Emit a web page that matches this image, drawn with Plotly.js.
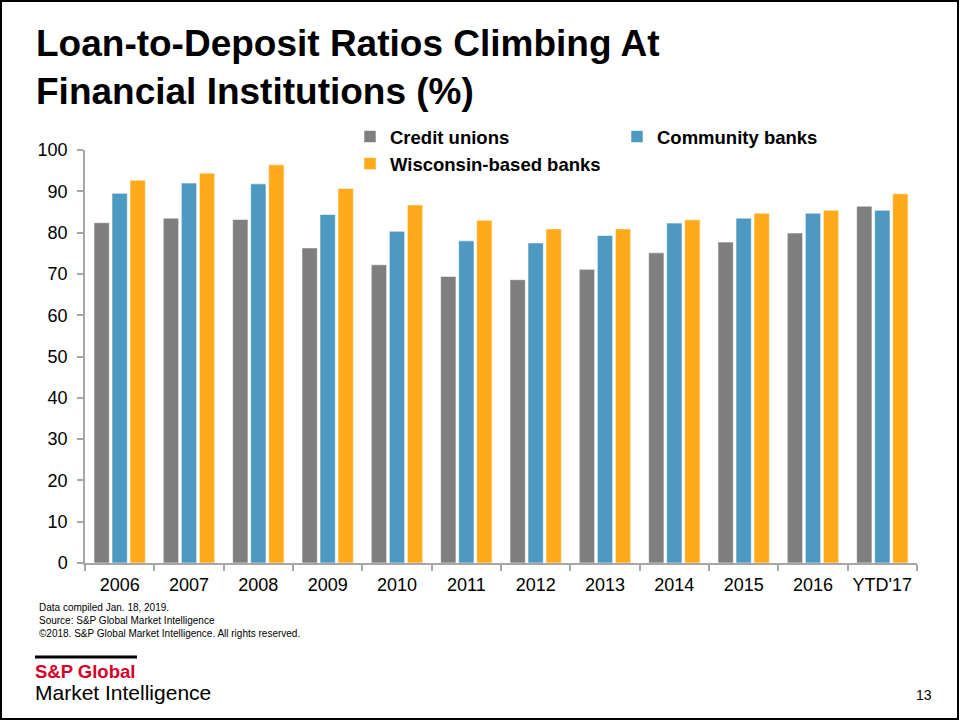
<!DOCTYPE html>
<html>
<head>
<meta charset="utf-8">
<script src="https://cdn.plot.ly/plotly-3.0.1.min.js"></script>
<style>
html,body{margin:0;padding:0;background:#fff;}
#chart{width:960px;height:721px;}
</style>
</head>
<body>
<div id="chart"></div>
<script>
// ---- data ----
const categories = ["2006","2007","2008","2009","2010","2011","2012","2013","2014","2015","2016","YTD'17"];
const creditUnions   = [82.4, 83.5, 83.2, 76.3, 72.2, 69.4, 68.6, 71.1, 75.1, 77.7, 79.9, 86.4];
const communityBanks = [89.5, 92.0, 91.8, 84.4, 80.3, 78.0, 77.5, 79.3, 82.3, 83.5, 84.7, 85.4];
const wisconsinBanks = [92.7, 94.4, 96.4, 90.7, 86.7, 83.0, 80.9, 80.9, 83.1, 84.7, 85.4, 89.4];
const seriesNames = ["Credit unions", "Community banks", "Wisconsin-based banks"];
const yTicks = [0,10,20,30,40,50,60,70,80,90,100];

// ---- layout geometry (pixels) ----
const W = 960, H = 721;
const L = 85, R = 43, T = 150, B = 158;
const plotW = W - L - R, plotH = H - T - B;
const px = x => (x - L) / plotW;
const py = y => (H - B - y) / plotH;

const FONT = '"Liberation Sans", Arial, Helvetica, sans-serif';

const barLine = {color: 'rgba(255,255,255,0.55)', width: 1};
const traces = [
  {type:'bar', name: seriesNames[0], x: categories, y: creditUnions,
   marker:{color:'#7F7F7F', line: barLine}, legend:'legend'},
  {type:'bar', name: seriesNames[1], x: categories, y: communityBanks,
   marker:{color:'#4E99C2', line: barLine}, legend:'legend2'},
  {type:'bar', name: seriesNames[2], x: categories, y: wisconsinBanks,
   marker:{color:'#FFAA1A', line: barLine}, legend:'legend'}
];

const legendFont = {family: FONT, size: 18.5, color: '#000', weight: 'bold'};

const ruleY = py(657);
const layout = {
  width: W, height: H,
  margin: {l: L, r: R, t: T, b: B, pad: 0},
  font: {family: FONT, color: '#000'},
  title: {
    text: '<b>Loan-to-Deposit Ratios Climbing At<br>Financial Institutions (%)</b>',
    font: {family: FONT, size: 37, color: '#000'},
    x: 36 / W, xanchor: 'left', xref: 'container',
    y: 1 - 56 / H, yanchor: 'top', yref: 'container'
  },
  barmode: 'group',
  bargap: 0.22,
  bargroupgap: 0.15,
  showlegend: true,
  legend: {
    x: px(350), xanchor: 'left', y: py(118), yanchor: 'top',
    orientation: 'v', font: legendFont, itemwidth: 30,
    bgcolor: 'rgba(0,0,0,0)', traceorder: 'normal'
  },
  legend2: {
    x: px(617), xanchor: 'left', y: py(118), yanchor: 'top',
    orientation: 'v', font: legendFont, itemwidth: 30,
    bgcolor: 'rgba(0,0,0,0)'
  },
  xaxis: {
    type: 'category',
    showgrid: false, zeroline: false,
    showline: true, linecolor: '#A6A6A6', linewidth: 1.5,
    ticks: 'outside', tickson: 'boundaries', ticklen: 6, tickcolor: '#A6A6A6', tickwidth: 1.5,
    tickfont: {family: FONT, size: 18, color: '#000'},
    ticklabelstandoff: 5
  },
  yaxis: {
    range: [0, 100],
    tickvals: yTicks,
    showgrid: false, zeroline: false,
    showline: true, linecolor: '#A6A6A6', linewidth: 1.5,
    ticks: 'outside', ticklen: 6, tickcolor: '#A6A6A6', tickwidth: 1.5,
    tickfont: {family: FONT, size: 18, color: '#000'},
    ticklabelstandoff: 6
  },
  shapes: [
    // slide frame
    {type:'rect', xref:'paper', yref:'paper', x0: px(1), x1: px(958), y0: py(719), y1: py(1),
     line:{color:'#000', width:2}, fillcolor:'rgba(0,0,0,0)', layer:'above'},
    // logo rule
    {type:'path', xref:'paper', yref:'paper',
     path: 'M' + px(35) + ',' + ruleY + ' L' + px(137) + ',' + ruleY,
     line:{color:'#000', width:3}, layer:'above'}
  ],
  annotations: [
    {text:'Data compiled Jan. 18, 2019.', xref:'paper', yref:'paper', x: px(37), y: py(607),
     xanchor:'left', yanchor:'middle', showarrow:false, font:{family: FONT, size: 10, color:'#000'}},
    {text:'Source: S&P Global Market Intelligence', xref:'paper', yref:'paper', x: px(37), y: py(620),
     xanchor:'left', yanchor:'middle', showarrow:false, font:{family: FONT, size: 10, color:'#000'}},
    {text:'\u00A92018. S&P Global Market Intelligence. All rights reserved.', xref:'paper', yref:'paper', x: px(37), y: py(633),
     xanchor:'left', yanchor:'middle', showarrow:false, font:{family: FONT, size: 10, color:'#000'}},
    {text:'<b>S&P Global</b>', xref:'paper', yref:'paper', x: px(33), y: py(671),
     xanchor:'left', yanchor:'middle', showarrow:false, font:{family: FONT, size: 18.5, color:'#D6002A'}},
    {text:'Market Intelligence', xref:'paper', yref:'paper', x: px(33), y: py(692),
     xanchor:'left', yanchor:'middle', showarrow:false, font:{family: FONT, size: 21, color:'#000'}},
    {text:'13', xref:'paper', yref:'paper', x: px(934), y: py(695),
     xanchor:'right', yanchor:'middle', showarrow:false, font:{family: FONT, size: 14, color:'#000'}}
  ]
};

Plotly.newPlot('chart', traces, layout, {displayModeBar: false});
</script>
</body>
</html>
